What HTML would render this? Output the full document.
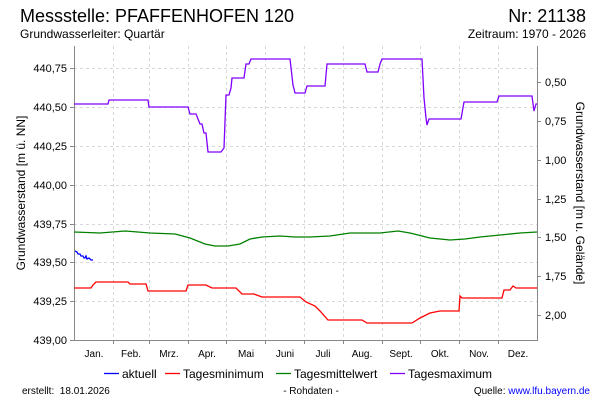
<!DOCTYPE html>
<html><head><meta charset="utf-8"><style>
body{margin:0;background:#fff;}
svg{display:block;font-family:"Liberation Sans",sans-serif;}
</style></head><body>
<svg width="600" height="400" xmlns="http://www.w3.org/2000/svg">
<rect width="600" height="400" fill="#fff"/>
<text x="20" y="22" font-size="18" fill="#000">Messstelle: PFAFFENHOFEN 120</text>
<text x="586" y="22" font-size="18" fill="#000" text-anchor="end">Nr: 21138</text>
<text x="20" y="38" font-size="12">Grundwasserleiter: Quartär</text>
<text x="586" y="38" font-size="12" text-anchor="end">Zeitraum: 1970 - 2026</text>
<g stroke="#d8d8d8" stroke-dasharray="3,3" stroke-width="1">
<line x1="74" x2="537" y1="68.5" y2="68.5"/><line x1="74" x2="537" y1="107.5" y2="107.5"/>
<line x1="74" x2="537" y1="146.5" y2="146.5"/><line x1="74" x2="537" y1="185.5" y2="185.5"/>
<line x1="74" x2="537" y1="224.5" y2="224.5"/><line x1="74" x2="537" y1="262.5" y2="262.5"/>
<line x1="74" x2="537" y1="301.5" y2="301.5"/>
<line x1="113.5" x2="113.5" y1="46" y2="340"/><line x1="149.5" x2="149.5" y1="46" y2="340"/>
<line x1="188.5" x2="188.5" y1="46" y2="340"/><line x1="226.5" x2="226.5" y1="46" y2="340"/>
<line x1="265.5" x2="265.5" y1="46" y2="340"/><line x1="304.5" x2="304.5" y1="46" y2="340"/>
<line x1="343.5" x2="343.5" y1="46" y2="340"/><line x1="382.5" x2="382.5" y1="46" y2="340"/>
<line x1="420.5" x2="420.5" y1="46" y2="340"/><line x1="459.5" x2="459.5" y1="46" y2="340"/>
<line x1="498.5" x2="498.5" y1="46" y2="340"/>
</g>
<g stroke="#888" stroke-width="1" fill="none">
<line x1="74.5" y1="46" x2="74.5" y2="341"/><line x1="537.5" y1="46" x2="537.5" y2="341"/>
<line x1="74" y1="340.5" x2="538" y2="340.5"/>
<line x1="70" x2="74" y1="68.5" y2="68.5"/><line x1="70" x2="74" y1="107.5" y2="107.5"/><line x1="70" x2="74" y1="146.5" y2="146.5"/><line x1="70" x2="74" y1="185.5" y2="185.5"/><line x1="70" x2="74" y1="224.5" y2="224.5"/><line x1="70" x2="74" y1="262.5" y2="262.5"/><line x1="70" x2="74" y1="301.5" y2="301.5"/><line x1="70" x2="74" y1="340.5" y2="340.5"/>
<line x1="537" x2="541" y1="82.5" y2="82.5"/><line x1="537" x2="541" y1="121.5" y2="121.5"/><line x1="537" x2="541" y1="160.5" y2="160.5"/><line x1="537" x2="541" y1="199.5" y2="199.5"/><line x1="537" x2="541" y1="237.5" y2="237.5"/><line x1="537" x2="541" y1="276.5" y2="276.5"/><line x1="537" x2="541" y1="315.5" y2="315.5"/>
<line x1="113.5" x2="113.5" y1="340" y2="344"/><line x1="149.5" x2="149.5" y1="340" y2="344"/><line x1="188.5" x2="188.5" y1="340" y2="344"/><line x1="226.5" x2="226.5" y1="340" y2="344"/><line x1="265.5" x2="265.5" y1="340" y2="344"/><line x1="304.5" x2="304.5" y1="340" y2="344"/><line x1="343.5" x2="343.5" y1="340" y2="344"/><line x1="382.5" x2="382.5" y1="340" y2="344"/><line x1="420.5" x2="420.5" y1="340" y2="344"/><line x1="459.5" x2="459.5" y1="340" y2="344"/><line x1="498.5" x2="498.5" y1="340" y2="344"/>
</g>
<g font-size="11" text-anchor="end">
<text x="67" y="72">440,75</text><text x="67" y="111">440,50</text><text x="67" y="150">440,25</text><text x="67" y="189">440,00</text><text x="67" y="228">439,75</text><text x="67" y="266">439,50</text><text x="67" y="305">439,25</text><text x="67" y="344">439,00</text>
</g>
<g font-size="11">
<text x="545" y="86">0,50</text><text x="545" y="125">0,75</text><text x="545" y="164">1,00</text><text x="545" y="203">1,25</text><text x="545" y="241">1,50</text><text x="545" y="280">1,75</text><text x="545" y="319">2,00</text>
</g>
<g font-size="10" text-anchor="middle">
<text x="94" y="357">Jan.</text><text x="131" y="357">Feb.</text><text x="169" y="357">Mrz.</text><text x="207" y="357">Apr.</text><text x="246" y="357">Mai</text><text x="285" y="357">Juni</text><text x="323" y="357">Juli</text><text x="362" y="357">Aug.</text><text x="401" y="357">Sept.</text><text x="440" y="357">Okt.</text><text x="479" y="357">Nov.</text><text x="518" y="357">Dez.</text>
</g>
<text transform="translate(25,193) rotate(-90)" font-size="12" text-anchor="middle">Grundwasserstand [m ü. NN]</text>
<text transform="translate(576,193) rotate(90)" font-size="12" text-anchor="middle">Grundwasserstand [m u. Gelände]</text>
<g fill="none" stroke-width="1.3">
<polyline stroke="#8000ff" points="74,104 108,104 109,100 148,100 149,107 188,107 190,114 196,114 198,119 200,124 202,124 204,133 206,133 208,152 221,152 224,148 226,95 229,95 231,88 232,78 244,78 246,64 249,64 251,59 290,59 293,85 295,93 305,93 307,86 325,86 327,64 365,64 367,72 378,72 380,64 382,59 422,59 424,98 426,118 427,125 429,119 461,119 464,102 497,102 499,96 532,96 534,111 536,104 537,104"/>
<polyline stroke="#008000" points="74,232 100,233 125,231 150,233 175,234 190,238 205,244 215,246 228,246 240,244 250,239 262,237 280,236 295,237 310,237 330,236 350,233 380,233 398,231 410,233 430,238 450,240 465,239 480,237 500,235 520,233 537,232"/>
<polyline stroke="#ff0000" points="74,288 91,288 93,285 96,282 128,282 130,284 146,284 148,291 186,291 188,285 206,285 212,288 236,288 242,294 254,294 262,297 300,297 306,302 315,306 320,311 328,320 362,320 367,323 412,323 420,318 430,313 440,311 459,311 460,296 462,298 502,298 504,290 510,290 513,286 516,288 537,288"/>
<polyline stroke="#0000ff" points="75,251 77,252 78,254 80,254 81,256 83,256 84,258 85,258 86,256 87,259 89,258 91,260 93,260"/>
</g>
<g font-size="12">
<line x1="104" y1="373.5" x2="119" y2="373.5" stroke="#0000ff" stroke-width="1.3"/><text x="122" y="378">aktuell</text>
<line x1="165" y1="373.5" x2="180" y2="373.5" stroke="#ff0000" stroke-width="1.3"/><text x="183" y="378">Tagesminimum</text>
<line x1="276" y1="373.5" x2="291" y2="373.5" stroke="#008000" stroke-width="1.3"/><text x="294" y="378">Tagesmittelwert</text>
<line x1="390" y1="373.5" x2="405" y2="373.5" stroke="#8000ff" stroke-width="1.3"/><text x="408" y="378">Tagesmaximum</text>
</g>
<g font-size="10">
<text x="22" y="394">erstellt:&#160; 18.01.2026</text>
<text x="311" y="394" text-anchor="middle">- Rohdaten -</text>
<text x="590" y="394" text-anchor="end">Quelle: <tspan fill="#0000ff">www.lfu.bayern.de</tspan></text>
</g>
</svg>
</body></html>
